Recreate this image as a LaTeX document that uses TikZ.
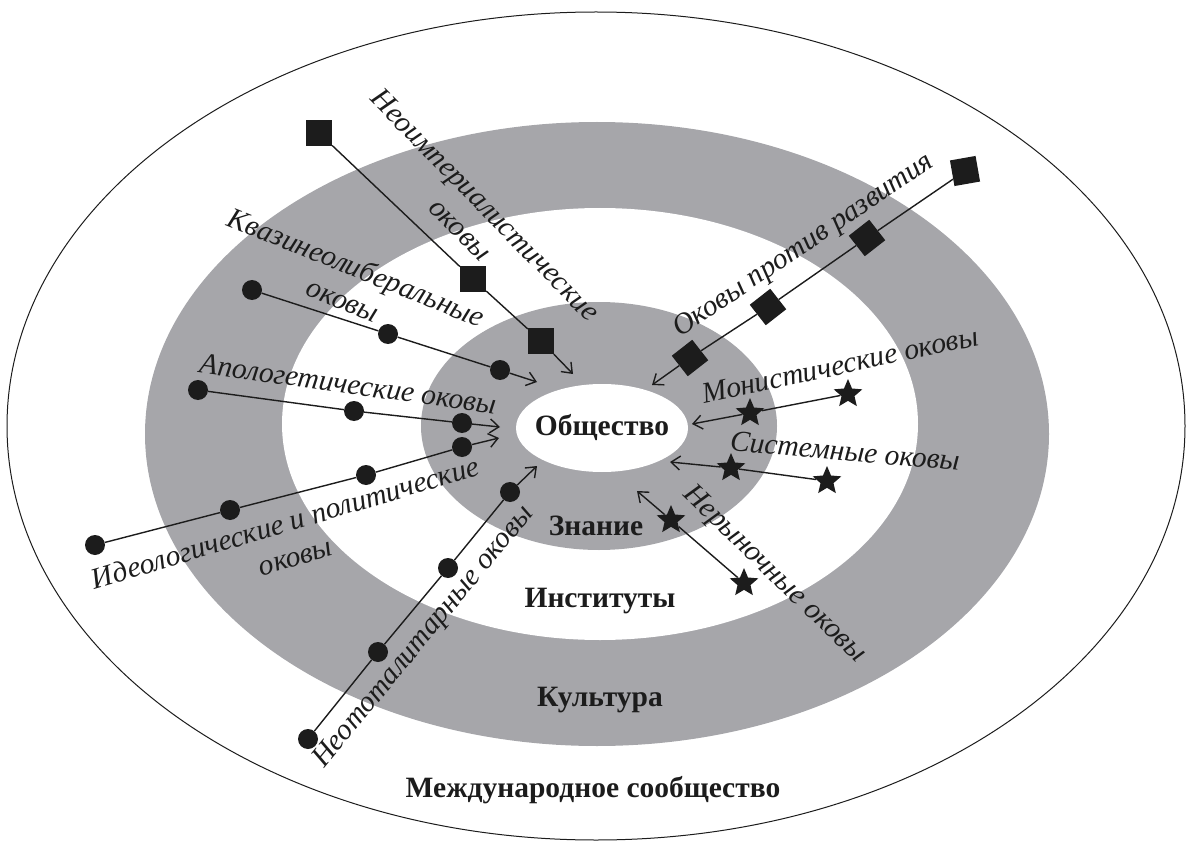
\documentclass[tikz,border=0pt]{standalone}
\usepackage{fontspec}
\setmainfont{Liberation Serif}
\usetikzlibrary{shapes.geometric,arrows.meta}
\definecolor{ring}{RGB}{166,166,170}
\definecolor{ink}{RGB}{28,28,28}
\begin{document}
\begin{tikzpicture}[x=1pt,y=-1pt,
 dot/.style={circle,fill=ink,inner sep=0pt,minimum size=20pt},
 sq/.style={rectangle,fill=ink,inner sep=0pt,minimum size=26pt},
 st/.style={star,star points=5,star point ratio=2.2,fill=ink,inner sep=0pt,minimum size=30pt},
 link/.style={draw=ink,line width=1.4pt},
 arr/.style={link,-{Straight Barb[length=9pt,width=14pt,line width=1.4pt]}},
 lab/.style={font=\fontsize{29.5}{35}\selectfont\itshape,text=ink,align=center,inner sep=0pt},
 zone/.style={font=\fontsize{29.5}{34}\selectfont\bfseries,text=ink,inner sep=0pt}
]
\useasboundingbox (0,0) rectangle (1192,845);
% rings
\draw[ink,line width=1pt] (596,426) ellipse [x radius=589, y radius=414];
\fill[ring] (597,434) ellipse [x radius=452, y radius=312];
\fill[white] (600,424) ellipse [x radius=318, y radius=216];
\fill[ring] (599,426) ellipse [x radius=178, y radius=124];
\fill[white] (602,428) ellipse [x radius=86, y radius=44];
% zone labels
\node[zone] (obs) at (602,428) {Общество};
\node[zone] (zn) at (596,526) {Знание};
\node[zone] (inst) at (600,601) {Институты};
\node[zone] (kult) at (600,700) {Культура};
\node[zone] (mezh) at (593,790) {Международное сообщество};
% chain 1: neo-imperial
\node[sq] (a1) at (319,133) {};
\node[sq] (a2) at (473,279) {};
\node[sq] (a3) at (541,341) {};
\coordinate (ae) at (573,374);
\draw[link] (a1) -- (a2) -- (a3);
\draw[arr] (a3) -- (ae);
\node[lab,rotate=-45.5] (la) at (473,217) {Неоимпериалистические\\оковы};
% chain 2: quasi-neoliberal
\node[dot] (b1) at (252,290) {};
\node[dot] (b2) at (388,334) {};
\node[dot] (b3) at (500,370) {};
\coordinate (be) at (537,382);
\draw[link] (b1) -- (b2) -- (b3);
\draw[arr] (b3) -- (be);
\node[lab,rotate=-22] (lb) at (350,283) {Квазинеолиберальные\\оковы};
% chain 3: apologetic
\node[dot] (c1) at (198,390) {};
\node[dot] (c2) at (354,411) {};
\node[dot] (c3) at (462,423) {};
\coordinate (ce) at (500,427);
\draw[link] (c1) -- (c2) -- (c3);
\draw[arr] (c3) -- (ce);
\node[lab,rotate=-8] (lc) at (348,384) {Апологетические оковы};
% chain 4: ideological and political
\node[dot] (d1) at (95,545) {};
\node[dot] (d2) at (230,510) {};
\node[dot] (d3) at (366,475) {};
\node[dot] (d4) at (462,447) {};
\coordinate (de) at (499,438);
\draw[link] (d1) -- (d2) -- (d3) -- (d4);
\draw[arr] (d4) -- (de);
\node[lab,rotate=16.5] (ld) at (290,539) {Идеологические и политические\\оковы};
% chain 5: neo-totalitarian
\node[dot] (f1) at (308,739) {};
\node[dot] (f2) at (378,652) {};
\node[dot] (f3) at (448,568) {};
\node[dot] (f4) at (510,492) {};
\coordinate (fe) at (537,466);
\draw[link] (f1) -- (f2) -- (f3) -- (f4);
\draw[arr] (f4) -- (fe);
\node[lab,rotate=50.5] (lf) at (424,637) {Неототалитарные оковы};
% chain 6: against development
\node[sq,rotate=10] (g1) at (965,171) {};
\node[sq,rotate=38] (g2) at (867,238) {};
\node[sq,rotate=38] (g3) at (768,307) {};
\node[sq,rotate=38] (g4) at (690,358) {};
\coordinate (ge) at (652,385);
\draw[link] (g1) -- (g2) -- (g3) -- (g4);
\draw[arr] (g4) -- (ge);
\node[lab,rotate=34] (lg) at (804,246) {Оковы против развития};
% chain 7: monistic
\node[st] (h1) at (848,394) {};
\node[st] (h2) at (750,413) {};
\coordinate (he) at (692,424);
\draw[link] (h1) -- (h2);
\draw[arr] (h2) -- (he);
\node[lab,rotate=12] (lh) at (840,365) {Монистические оковы};
% chain 8: systemic
\node[st] (k1) at (827,481) {};
\node[st] (k2) at (731,468) {};
\coordinate (ke) at (670,462);
\draw[link] (k1) -- (k2);
\draw[arr] (k2) -- (ke);
\node[lab,rotate=-5] (lk) at (845,451) {Системные оковы};
% chain 9: non-market
\node[st] (m1) at (744,583) {};
\node[st] (m2) at (671,520) {};
\coordinate (me) at (637,491);
\draw[link] (m1) -- (m2);
\draw[arr] (m2) -- (me);
\node[lab,rotate=-44] (lm) at (774,575) {Нерыночные оковы};
\end{tikzpicture}
\end{document}
